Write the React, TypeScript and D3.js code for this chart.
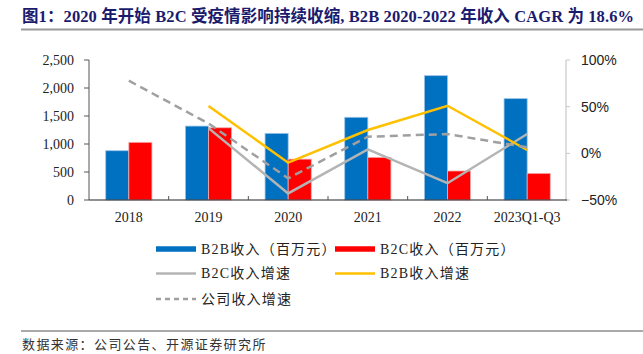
import React, { useRef, useEffect } from "react";
import * as d3 from "d3";

const years = ["2018", "2019", "2020", "2021", "2022", "2023Q1-Q3"];
const b2bRevenue = [880, 1320, 1190, 1477, 2220, 1810];
const b2cRevenue = [1030, 1290, 730, 762, 518, 476];
const b2cGrowth = [null, 0.27, -0.43, 0.043, -0.32, 0.207];
const b2bGrowth = [null, 0.507, -0.1, 0.25, 0.51, 0.036];
const totalGrowth = [0.778, 0.32, -0.268, 0.178, 0.207, 0.064];
const leftTicks = [0, 500, 1000, 1500, 2000, 2500];
const rightTicks = [-0.5, 0, 0.5, 1];

const serif = "'Times New Roman', 'Liberation Serif', 'Noto Sans CJK SC', serif";
const sans = "'Liberation Sans', Arial, 'Noto Sans CJK SC', sans-serif";

const App = () => {
  const ref = useRef(null);

  useEffect(() => {
    const svg = d3.select(ref.current);
    svg.selectAll("*").remove();

    const W = 643;
    const H = 354;
    svg.attr("width", W).attr("height", H);

    // title
    svg
      .append("text")
      .attr("x", 22)
      .attr("y", 22)
      .attr("font-family", serif)
      .attr("font-weight", "bold")
      .attr("font-size", 16.5)
      .attr("textLength", 612)
      .attr("lengthAdjust", "spacing")
      .attr("fill", "#1b1b6e")
      .text("图1：2020 年开始 B2C 受疫情影响持续收缩, B2B 2020-2022 年收入 CAGR 为 18.6%");
    svg
      .append("line")
      .attr("x1", 21)
      .attr("x2", 643)
      .attr("y1", 29.5)
      .attr("y2", 29.5)
      .attr("stroke", "#999")
      .attr("stroke-width", 2);

    const left = 89;
    const right = 567;
    const top = 60;
    const bottom = 200;

    const x = d3.scaleBand().domain(years).range([left, right]).padding(0);
    const bw = x.bandwidth();
    const inner = d3
      .scaleBand()
      .domain(["b2b", "b2c"])
      .range([bw * 0.21, bw * 0.79])
      .padding(0);
    const y = d3.scaleLinear().domain([0, 2500]).range([bottom, top]);
    const y2 = d3.scaleLinear().domain([-0.5, 1]).range([bottom, top]);

    // bars
    const g = svg.append("g");
    years.forEach((yr, i) => {
      g.append("rect")
        .attr("x", x(yr) + inner("b2b"))
        .attr("y", y(b2bRevenue[i]))
        .attr("width", inner.bandwidth())
        .attr("height", y(0) - y(b2bRevenue[i]))
        .attr("fill", "#0070C0")
        .attr("stroke", "#9dc3e6")
        .attr("stroke-width", 0.8);
      g.append("rect")
        .attr("x", x(yr) + inner("b2c"))
        .attr("y", y(b2cRevenue[i]))
        .attr("width", inner.bandwidth())
        .attr("height", y(0) - y(b2cRevenue[i]))
        .attr("fill", "#FF0000")
        .attr("stroke", "#f4b0b0")
        .attr("stroke-width", 0.8);
    });

    // axes
    const axL = svg.append("g").attr("transform", `translate(${left},0)`);
    axL.append("line").attr("y1", top).attr("y2", bottom).attr("stroke", "#555");
    leftTicks.forEach((t) => {
      axL.append("line").attr("x1", -5).attr("x2", 0).attr("y1", y(t)).attr("y2", y(t)).attr("stroke", "#555");
      axL
        .append("text")
        .attr("x", -15)
        .attr("y", y(t))
        .attr("dy", "0.35em")
        .attr("text-anchor", "end")
        .attr("font-family", serif)
        .attr("font-size", 14)
        .attr("fill", "#222")
        .text(d3.format(",")(t));
    });

    const axR = svg.append("g").attr("transform", `translate(${right - 1},0)`);
    axR.append("line").attr("y1", top).attr("y2", bottom).attr("stroke", "#c8c8c8").attr("stroke-width", 1.2);
    rightTicks.forEach((t) => {
      axR.append("line").attr("x1", 0).attr("x2", 4).attr("y1", y2(t)).attr("y2", y2(t)).attr("stroke", "#c8c8c8");
      axR
        .append("text")
        .attr("x", 15)
        .attr("y", y2(t))
        .attr("dy", "0.35em")
        .attr("font-family", sans)
        .attr("font-size", 14)
        .attr("fill", "#222")
        .text(d3.format(".0%")(t));
    });

    const axB = svg.append("g");
    axB.append("line").attr("x1", left).attr("x2", right).attr("y1", bottom).attr("y2", bottom).attr("stroke", "#222").attr("stroke-width", 1.2);
    years.forEach((yr, i) => {
      if (i > 0) {
        axB.append("line").attr("x1", x(yr)).attr("x2", x(yr)).attr("y1", bottom).attr("y2", bottom - 4).attr("stroke", "#555");
      }
      axB
        .append("text")
        .attr("x", x(yr) + bw / 2)
        .attr("y", 222)
        .attr("text-anchor", "middle")
        .attr("font-family", serif)
        .attr("font-size", 14)
        .attr("fill", "#222")
        .text(yr);
    });

    // lines
    const line = d3
      .line()
      .defined((d) => d[1] != null)
      .x((d) => x(d[0]) + bw / 2)
      .y((d) => y2(d[1]));
    const addLine = (vals, color, dash) => {
      svg
        .append("path")
        .attr("d", line(years.map((yr, i) => [yr, vals[i]])))
        .attr("fill", "none")
        .attr("stroke", color)
        .attr("stroke-width", 2.5)
        .attr("stroke-dasharray", dash || null);
    };
    addLine(b2cGrowth, "#b4b4b4");
    addLine(b2bGrowth, "#FFC000");
    addLine(totalGrowth, "#a0a0a0", "8,5");

    // legend
    const legend = [
      { label: "B2B收入（百万元）", color: "#0070C0", type: "bar", x: 156, y: 249 },
      { label: "B2C收入（百万元）", color: "#FF0000", type: "bar", x: 335, y: 249 },
      { label: "B2C收入增速", color: "#b4b4b4", type: "line", x: 156, y: 273.5 },
      { label: "B2B收入增速", color: "#FFC000", type: "line", x: 335, y: 273.5 },
      { label: "公司收入增速", color: "#a0a0a0", type: "dash", x: 156, y: 299 },
    ];
    legend.forEach((d) => {
      svg
        .append("line")
        .attr("x1", d.x)
        .attr("x2", d.x + 40)
        .attr("y1", d.y)
        .attr("y2", d.y)
        .attr("stroke", d.color)
        .attr("stroke-width", d.type === "bar" ? 5.5 : 2.5)
        .attr("stroke-dasharray", d.type === "dash" ? "5,4" : null);
      svg
        .append("text")
        .attr("x", d.x + 45)
        .attr("y", d.y)
        .attr("dy", "0.35em")
        .attr("font-family", serif)
        .attr("font-size", 14)
        .attr("letter-spacing", 1.2)
        .attr("fill", "#222")
        .text(d.label);
    });

    // footer
    svg
      .append("line")
      .attr("x1", 21)
      .attr("x2", 643)
      .attr("y1", 331)
      .attr("y2", 331)
      .attr("stroke", "#555")
      .attr("stroke-width", 1);
    svg
      .append("text")
      .attr("x", 22)
      .attr("y", 344)
      .attr("dy", "0.35em")
      .attr("font-family", serif)
      .attr("font-size", 13)
      .attr("letter-spacing", 1.4)
      .attr("fill", "#333")
      .text("数据来源：公司公告、开源证券研究所");
  }, []);

  return <svg ref={ref} style={{ position: "absolute", left: 0, top: 0, display: "block" }} />;
};

export default App;
